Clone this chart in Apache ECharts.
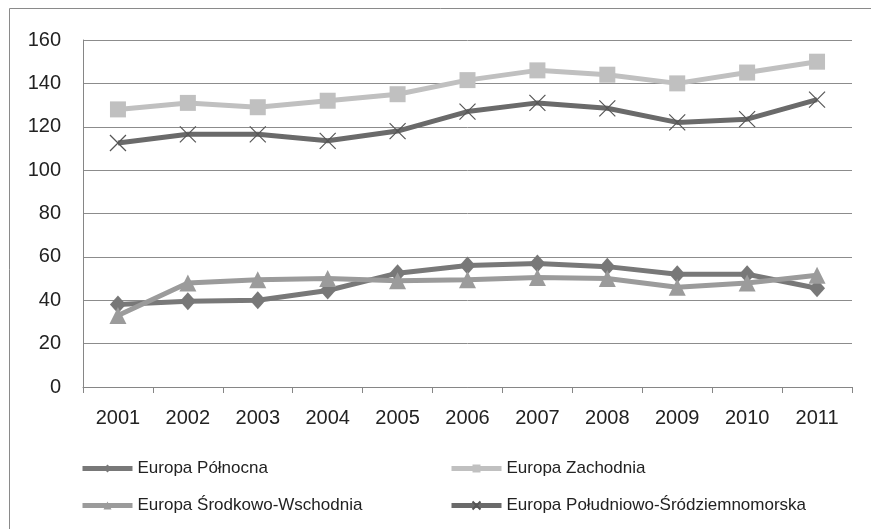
<!DOCTYPE html>
<html>
<head>
<meta charset="UTF-8">
<title>ECharts</title>
<script src="https://cdn.jsdelivr.net/npm/echarts@6/dist/echarts.min.js"></script>
</head>
<body style="margin:0">
<div id="main" style="width:871px;height:529px;"></div>
<script type="text/javascript">
var years = ['2001','2002','2003','2004','2005','2006','2007','2008','2009','2010','2011'];
var polnocna = [38, 39.5, 40, 44.5, 52.5, 56, 57, 55.5, 52, 52, 45.5];
var zachodnia = [128, 131, 129, 132, 135, 141.5, 146, 144, 140, 145, 150];
var srodkowo = [33, 48, 49.5, 50, 49, 49.5, 50.5, 50, 46, 48, 51.5];
var poludniowo = [112.5, 116.5, 116.5, 113.5, 118, 127, 131, 128.5, 122, 123.5, 132.5];
var names = ['Europa Północna', 'Europa Zachodnia', 'Europa Środkowo-Wschodnia', 'Europa Południowo-Śródziemnomorska'];

var font = 'Liberation Sans';
var crossPath = 'path://M0,0L10,10M10,0L0,10';

function leg(name, left, top) {
    return {
        data: [name], left: left, top: top, orient: 'horizontal',
        itemWidth: 50, itemHeight: 10, itemGap: 0,
        lineStyle: { width: 5 },
        textStyle: { fontFamily: font, fontSize: 17, color: '#222' }
    };
}

var myChart = echarts.init(document.getElementById('main'));
var option = {
    backgroundColor: '#fff',
    animation: false,
    graphic: [{
        type: 'rect', shape: { x: 9.5, y: 8.5, width: 880, height: 540 },
        style: { fill: 'none', stroke: '#8a8a8a', lineWidth: 1 }
    }],
    grid: { left: 83, right: 19, top: 40, bottom: 142 },
    legend: [
        leg(names[0], 75, 455),
        leg(names[1], 444, 455),
        leg(names[2], 75, 492),
        leg(names[3], 444, 492)
    ],
    xAxis: {
        type: 'category', data: years, boundaryGap: true,
        axisLine: { lineStyle: { color: '#868686', width: 1 } },
        axisTick: { show: true, length: 6, lineStyle: { color: '#868686' } },
        axisLabel: { fontFamily: font, fontSize: 20, color: '#222', margin: 21 }
    },
    yAxis: {
        type: 'value', min: 0, max: 160, interval: 20,
        axisLine: { show: true, lineStyle: { color: '#868686' } },
        axisTick: { show: false },
        splitLine: { lineStyle: { color: '#8c8c8c', width: 1 } },
        axisLabel: { fontFamily: font, fontSize: 20, color: '#222', margin: 22 }
    },
    series: [{
        name: names[0], type: 'line', data: polnocna,
        symbol: 'diamond', symbolSize: [16, 18],
        lineStyle: { width: 5, color: '#787878' },
        itemStyle: { color: '#787878' }
    }, {
        name: names[1], type: 'line', data: zachodnia,
        symbol: 'rect', symbolSize: 16,
        lineStyle: { width: 5, color: '#c0c0c0' },
        itemStyle: { color: '#c0c0c0' }
    }, {
        name: names[2], type: 'line', data: srodkowo,
        symbol: 'triangle', symbolSize: [17, 17],
        lineStyle: { width: 5, color: '#9b9b9b' },
        itemStyle: { color: '#9b9b9b' }
    }, {
        name: names[3], type: 'line', data: poludniowo,
        symbol: crossPath, symbolSize: 16,
        lineStyle: { width: 5, color: '#6a6a6a' },
        itemStyle: { color: 'none', borderColor: '#555', borderWidth: 1.2 }
    }]
};
myChart.setOption(option);
</script>
</body>
</html>
